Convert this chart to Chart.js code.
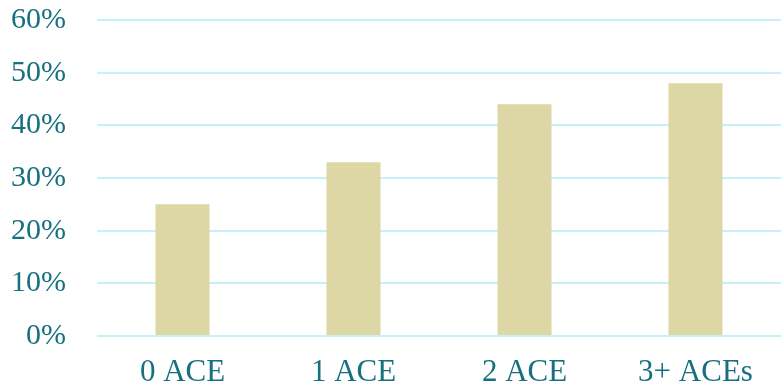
<!DOCTYPE html>
<html>
<head>
<meta charset="utf-8">
<script src="https://cdn.jsdelivr.net/npm/chart.js@4/dist/chart.umd.min.js"></script>
<style>
  html, body { margin: 0; padding: 0; background: #fff; }
  #wrap { width: 781px; height: 388px; }
</style>
</head>
<body>
<div id="wrap"><canvas id="myChart"></canvas></div>
<script>
var categories = ["0 ACE", "1 ACE", "2 ACE", "3+ ACEs"];
var values = [25, 33, 44, 48];
var yTicks = [0, 10, 20, 30, 40, 50, 60];

var textColor = '#17707f';
var serif = "'Liberation Serif', 'Times New Roman', serif";
var ctx = document.getElementById('myChart').getContext('2d');
var chart = new Chart(ctx, {
    type: 'bar',
    data: {
        labels: categories,
        datasets: [
            {
                label: "ACEs",
                backgroundColor: '#dcd7a5',
                data: values,
                barPercentage: 0.316,
                categoryPercentage: 1
            }
        ]
    },
    options: {
        responsive: true,
        maintainAspectRatio: false,
        animation: false,
        layout: { padding: 0 },
        plugins: {
            legend: { display: false },
            tooltip: { enabled: false }
        },
        scales: {
            x: {
                grid: { display: false, drawTicks: false },
                border: { display: false },
                ticks: {
                    color: textColor,
                    padding: 18,
                    font: { family: serif, size: 31 }
                },
                afterFit: function (axis) {
                    axis.height = 52;
                }
            },
            y: {
                min: 0,
                max: 60,
                afterBuildTicks: function (axis) {
                    axis.ticks = yTicks.map(function (v) { return { value: v }; });
                },
                grid: { color: '#c6f1f6', lineWidth: 2, drawTicks: false },
                border: { display: false },
                ticks: {
                    color: textColor,
                    padding: 31,
                    font: { family: serif, size: 30 },
                    callback: function (v) { return v + '%'; }
                },
                afterFit: function (axis) {
                    axis.width = 97;
                    axis.paddingTop = 20;
                    axis.paddingBottom = 0;
                }
            }
        }
    }
});
</script>
</body>
</html>
